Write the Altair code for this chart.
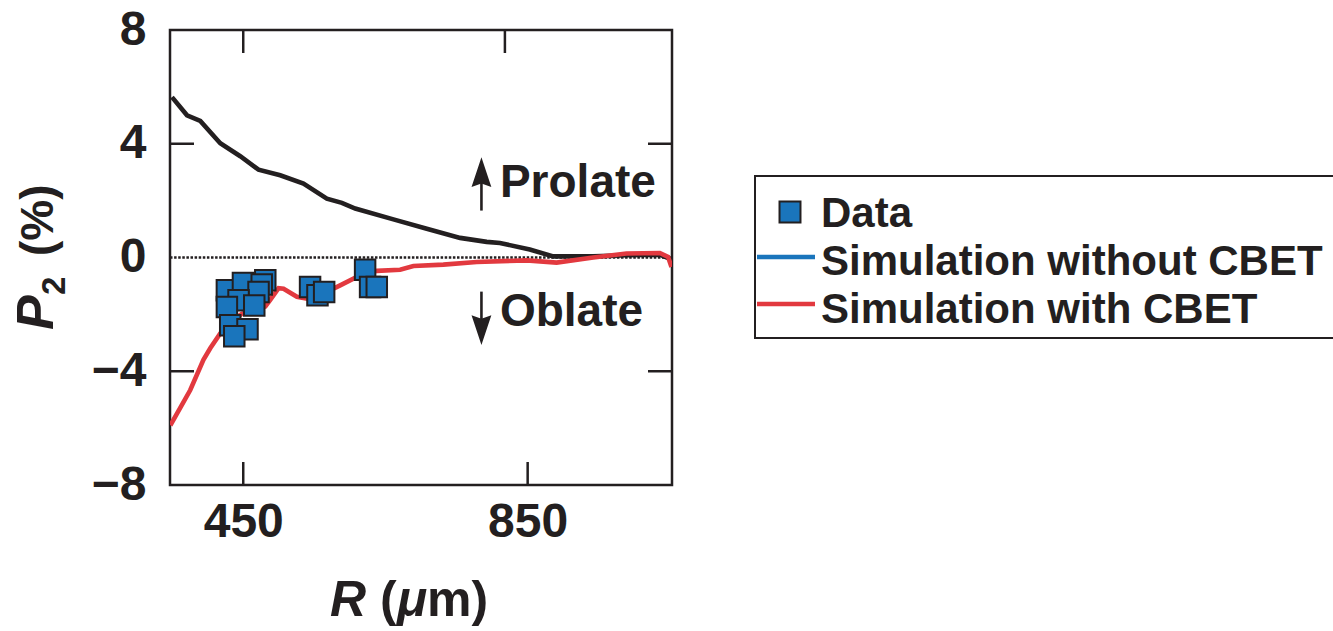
import altair as alt
import pandas as pd

# ---- data -------------------------------------------------------------
# Simulation without CBET: P2 (%) versus R (um)
r_no_cbet = [349.8, 370.9, 389.6, 417.7, 445.8, 471.5, 502.0, 534.7, 567.6, 588.7,
             607.5, 661.2, 708.1, 755.0, 792.4, 811.0, 853.0, 886.0, 942.0, 989.0,
             1035.8, 1052.0]
p2_no_cbet = [5.64, 5.00, 4.80, 4.02, 3.56, 3.09, 2.89, 2.60, 2.07, 1.92,
              1.72, 1.34, 1.01, 0.69, 0.55, 0.51, 0.28, 0.04, 0.04, 0.08,
              0.10, -0.07]

# Simulation with CBET
r_cbet = [347.5, 375.5, 394.0, 403.6, 417.7, 430.0, 448.0, 465.0, 481.0, 488.0,
          499.7, 506.7, 525.5, 539.5, 567.6, 586.3, 609.8, 637.9, 670.6, 689.3,
          731.4, 778.3, 848.6, 890.7, 942.2, 989.0, 1035.9, 1047.5, 1052.3]
p2_cbet = [-5.90, -4.66, -3.60, -3.19, -2.67, -2.30, -1.98, -1.85, -1.72, -1.49,
           -1.08, -1.10, -1.38, -1.45, -1.21, -0.98, -0.68, -0.47, -0.43, -0.30,
           -0.25, -0.16, -0.10, -0.18, 0.00, 0.14, 0.16, 0.02, -0.33]

# Measured P2
r_data = [427.0, 449.6, 481.0, 476.0, 471.5, 443.4, 427.0, 465.5, 431.7, 456.0,
          437.4, 544.0, 554.4, 563.8, 621.4, 628.4, 637.8]
p2_data = [-1.15, -0.90, -0.80, -0.95, -1.21, -1.50, -1.74, -1.69, -2.38, -2.52,
           -2.77, -1.04, -1.33, -1.21, -0.43, -1.04, -1.04]

x_ticks = [450, 850]
x_top_ticks = [450, 818]
y_ticks = [8, 4, 0, -4, -8]
y_inner_ticks = [4, -4]

legend_labels = ["Data", "Simulation without CBET", "Simulation with CBET"]
region_labels = ["Prolate", "Oblate"]

# ---- style ------------------------------------------------------------
INK = "#231f20"
BLUE = "#1a75bc"
RED = "#e2393f"
FONT = "Liberation Sans"
W, H = 502, 455

x_scale = alt.Scale(domain=[347, 1053], nice=False, zero=False)
y_scale = alt.Scale(domain=[-8, 8], nice=False, zero=False)

x_axis = alt.Axis(values=x_ticks, title=None, ticks=False, tickSize=0, domain=False,
                  grid=False, labelFont=FONT, labelFontSize=48, labelFontWeight="bold",
                  labelColor=INK, labelPadding=13, labelFlush=False)
y_axis = alt.Axis(values=y_ticks, title=None, ticks=False, tickSize=0, domain=False,
                  grid=False, labelFont=FONT, labelFontSize=48, labelFontWeight="bold",
                  labelColor=INK, labelPadding=24)


def X(field="R"):
    return alt.X(f"{field}:Q", scale=x_scale, axis=x_axis)


def Y(field="P2"):
    return alt.Y(f"{field}:Q", scale=y_scale, axis=y_axis)


no_cbet_df = pd.DataFrame({"R": r_no_cbet, "P2": p2_no_cbet})
cbet_df = pd.DataFrame({"R": r_cbet, "P2": p2_cbet})
data_df = pd.DataFrame({"R": r_data, "P2": p2_data})

# zero reference line
zero_line = alt.Chart(pd.DataFrame({"P2": [0]})).mark_rule(
    color=INK, strokeWidth=2.5, strokeDash=[2.5, 1.6]
).encode(y=Y(), x=alt.value(0), x2=alt.value(W))

line_no = alt.Chart(no_cbet_df).mark_line(color=INK, strokeWidth=4.6, clip=True).encode(
    x=X(), y=Y())
line_cbet = alt.Chart(cbet_df).mark_line(color=RED, strokeWidth=4.6, clip=True).encode(
    x=X(), y=Y())

squares = alt.Chart(data_df).mark_point(
    shape="square", filled=True, fill=BLUE, stroke=INK, strokeWidth=2,
    size=420, opacity=1
).encode(x=X(), y=Y())

# inward ticks on all four sides
tick_style = dict(color=INK, strokeWidth=2.5)
ytick_df = pd.DataFrame({"P2": y_inner_ticks})
left_ticks = alt.Chart(ytick_df).mark_rule(**tick_style).encode(
    y=Y(), x=alt.value(0), x2=alt.value(24))
right_ticks = alt.Chart(ytick_df).mark_rule(**tick_style).encode(
    y=Y(), x=alt.value(W), x2=alt.value(W - 24))
bottom_ticks = alt.Chart(pd.DataFrame({"R": x_ticks})).mark_rule(**tick_style).encode(
    x=X(), y=alt.value(H), y2=alt.value(H - 23))
top_ticks = alt.Chart(pd.DataFrame({"R": x_top_ticks})).mark_rule(**tick_style).encode(
    x=X(), y=alt.value(0), y2=alt.value(23))

# Prolate / Oblate annotation with arrows
region_df = pd.DataFrame({"R": [811, 811], "P2": [2.12, -2.42], "label": region_labels})
region_text = alt.Chart(region_df).mark_text(
    font=FONT, fontSize=46, fontWeight="bold", color=INK, align="left",
    baseline="alphabetic"
).encode(x=X(), y=Y(), text="label:N")

shaft_df = pd.DataFrame({"R": [785, 785], "P2": [1.65, -1.2], "P2_end": [2.89, -2.44]})
shafts = alt.Chart(shaft_df).mark_rule(color=INK, strokeWidth=2.6).encode(
    x=X(), y=Y(), y2="P2_end:Q")
head_up = alt.Chart(pd.DataFrame({"R": [785], "P2": [2.89]})).mark_point(
    shape="M0,-1L0.55,0.65L0,0.45L-0.55,0.65Z", filled=True, color=INK, size=1300,
    opacity=1, strokeWidth=0
).encode(x=X(), y=Y())
head_down = alt.Chart(pd.DataFrame({"R": [785], "P2": [-2.44]})).mark_point(
    shape="M0,1L0.55,-0.65L0,-0.45L-0.55,-0.65Z", filled=True, color=INK, size=1300,
    opacity=1, strokeWidth=0
).encode(x=X(), y=Y())


def label(text, x, y, size, style="normal", angle=0):
    return alt.Chart(pd.DataFrame({"t": [text]})).mark_text(
        font=FONT, fontSize=size, fontWeight="bold", fontStyle=style, color=INK,
        align="left", baseline="alphabetic", angle=angle
    ).encode(text="t:N", x=alt.value(x), y=alt.value(y))


# axis titles: R (μm) and P2 (%)
x_title = [
    label("R", 160, 586, 50, "italic"),
    label("(", 210, 586, 50),
    label("μ", 227, 586, 50, "italic"),
    label("m)", 257, 586, 50),
]
y_title = [
    label("P", -117, 300, 52, "italic", 270),
    label("2", -105, 265, 33, "normal", 270),
    label("(%)", -117, 226, 46, "normal", 270),
]

# legend, drawn to the right of the plot
box = alt.Chart(pd.DataFrame({"t": [0]})).mark_rect(
    fill="white", stroke=INK, strokeWidth=2
).encode(x=alt.value(585), x2=alt.value(1166), y=alt.value(146), y2=alt.value(308))
leg_square = alt.Chart(pd.DataFrame({"t": [legend_labels[0]]})).mark_point(
    shape="square", filled=True, fill=BLUE, stroke=INK, strokeWidth=2, size=440, opacity=1
).encode(x=alt.value(620), y=alt.value(182))
leg_line_blue = alt.Chart(pd.DataFrame({"t": [legend_labels[1]]})).mark_rule(
    color=BLUE, strokeWidth=4.5).encode(x=alt.value(587), x2=alt.value(645), y=alt.value(227))
leg_line_red = alt.Chart(pd.DataFrame({"t": [legend_labels[2]]})).mark_rule(
    color=RED, strokeWidth=4.5).encode(x=alt.value(587), x2=alt.value(645), y=alt.value(274))
leg_text = [label(t, 651, yy, 42) for t, yy in zip(legend_labels, [197, 245, 293])]

chart = alt.layer(
    zero_line, line_no, line_cbet, squares,
    left_ticks, right_ticks, bottom_ticks, top_ticks,
    shafts, head_up, head_down, region_text,
    *x_title, *y_title,
    box, leg_square, leg_line_blue, leg_line_red, *leg_text,
).properties(
    width=W, height=H,
    padding={"left": 170, "top": 30, "right": 661, "bottom": 146},
    autosize=alt.AutoSizeParams(type="none"),
).configure_view(stroke=INK, strokeWidth=2.5)

chart.save("out.html", embed_options={"renderer": "svg", "actions": False})
